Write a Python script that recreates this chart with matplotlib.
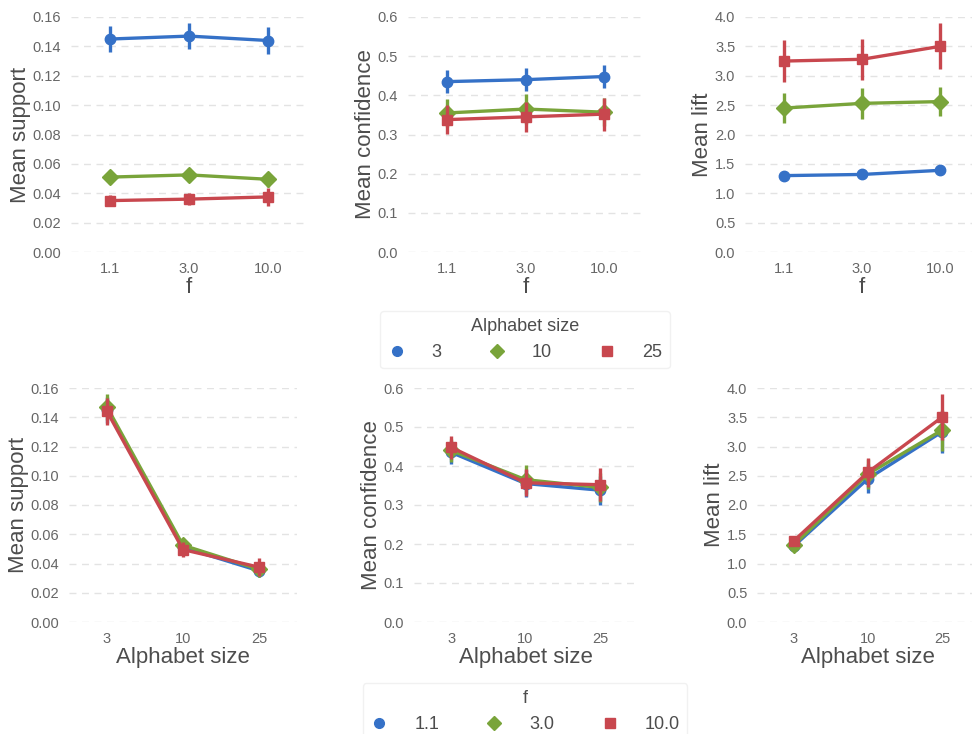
import numpy as np
import matplotlib
matplotlib.use('Agg')
import matplotlib.pyplot as plt
from matplotlib.lines import Line2D

# -----------------------------------
ALPHABET = ['3', '10', '25']
F_VALUES = ['1.1', '3.0', '10.0']
COLORS = ['#3571c7', '#79a43a', '#c8474e']
MARKERS = ['o', 'D', 's']

# rows: alphabet size (3, 10, 25); columns: f (1.1, 3.0, 10.0)
support_mean = np.array([[0.145, 0.147, 0.144],
                         [0.051, 0.0525, 0.0495],
                         [0.035, 0.036, 0.0375]])
support_err = np.array([[0.009, 0.009, 0.009],
                        [0.005, 0.005, 0.005],
                        [0.004, 0.004, 0.006]])
conf_mean = np.array([[0.435, 0.440, 0.448],
                      [0.355, 0.365, 0.357],
                      [0.338, 0.345, 0.352]])
conf_err = np.array([[0.03, 0.03, 0.03],
                     [0.035, 0.038, 0.035],
                     [0.037, 0.038, 0.042]])
lift_mean = np.array([[1.30, 1.32, 1.39],
                      [2.45, 2.53, 2.56],
                      [3.25, 3.28, 3.50]])
lift_err = np.array([[0.06, 0.06, 0.07],
                     [0.25, 0.26, 0.25],
                     [0.36, 0.35, 0.39]])

METRICS = [('Mean support', support_mean, support_err, 0.16, np.arange(0, 0.161, 0.02), '{:.2f}'),
           ('Mean confidence', conf_mean, conf_err, 0.6, np.arange(0, 0.61, 0.1), '{:.1f}'),
           ('Mean lift', lift_mean, lift_err, 4.0, np.arange(0, 4.01, 0.5), '{:.1f}')]
# -----------------------------------

plt.rcParams['font.family'] = ['Liberation Sans', 'DejaVu Sans']
TICK_C = '#666666'
LAB_C = '#4d4d4d'

fig = plt.figure(figsize=(9.72, 7.34), dpi=100)
W, H = 972., 734.

# // axes positions in pixels: left, right (y of top / zero gridline given below)
top_pos = [(70.5, 307.5), (407.8, 643.2), (745, 979)]
bot_pos = [(69, 297), (413.8, 637.2), (757, 979)]


def make_ax(xl, xr, ytop, ybot):
    return fig.add_axes([xl / W, 1 - ybot / H, (xr - xl) / W, (ybot - ytop) / H])


def style_ax(ax, ymax, ticks, fmt, ylabel, xlabel, xticklabels):
    ax.set_xlim(-0.5, 2.5)
    ax.set_ylim(0, ymax)
    ax.set_yticks(ticks)
    ax.set_yticklabels([fmt.format(t) for t in ticks])
    ax.set_xticks(range(3))
    ax.set_xticklabels(xticklabels)
    for s in ax.spines.values():
        s.set_visible(False)
    ax.yaxis.grid(True, linestyle=(0, (5, 4)), color='#e3e3e3', linewidth=1)
    ax.set_axisbelow(True)
    ax.tick_params(length=0, labelsize=10.5, colors=TICK_C, pad=7)
    ax.set_ylabel(ylabel, fontsize=16, color=LAB_C, labelpad=1)
    ax.set_xlabel(xlabel, fontsize=16, color=LAB_C, labelpad=1)


x = np.arange(3)
for col, (label, mean, err, ymax, ticks, fmt) in enumerate(METRICS):
    # top row: x = f, hue = alphabet size
    ax = make_ax(top_pos[col][0], top_pos[col][1], 17, 252)
    for i in range(3):
        ax.errorbar(x, mean[i, :], yerr=err[i, :], color=COLORS[i], marker=MARKERS[i],
                    markersize=8 if MARKERS[i] == 'D' else 7.5, linewidth=2.4, elinewidth=2.4,
                    capsize=0, clip_on=False, zorder=3 + i)
    style_ax(ax, ymax, ticks, fmt, label, 'f', F_VALUES)

    # bottom row: x = alphabet size, hue = f
    ax = make_ax(bot_pos[col][0], bot_pos[col][1], 388, 622)
    for j in range(3):
        ax.errorbar(x, mean[:, j], yerr=err[:, j], color=COLORS[j], marker=MARKERS[j],
                    markersize=8 if MARKERS[j] == 'D' else 7.5, linewidth=2.4, elinewidth=2.4,
                    capsize=0, clip_on=False, zorder=3 + j)
    style_ax(ax, ymax, ticks, fmt, label, 'Alphabet size', ALPHABET)


def add_legend(labels, title, ytop):
    handles = [Line2D([], [], linestyle='none', marker=MARKERS[k], color=COLORS[k],
                      markersize=7 if MARKERS[k] != 's' else 6.5) for k in range(3)]
    leg = fig.legend(handles, labels, title=title, loc='upper center', ncol=3,
                     bbox_to_anchor=(525 / W, 1 - ytop / H), fontsize=13, title_fontsize=13,
                     handlelength=1.0, handletextpad=1.45, columnspacing=2.55,
                     frameon=True, borderpad=0.4, borderaxespad=0, fancybox=True)
    leg.get_frame().set_edgecolor('#eeeeee')
    leg.get_title().set_color(LAB_C)
    for t in leg.get_texts():
        t.set_color(LAB_C)
    return leg


add_legend(ALPHABET, 'Alphabet size', 311)
add_legend(F_VALUES, 'f', 683)

fig.savefig('out.png', dpi=100)
